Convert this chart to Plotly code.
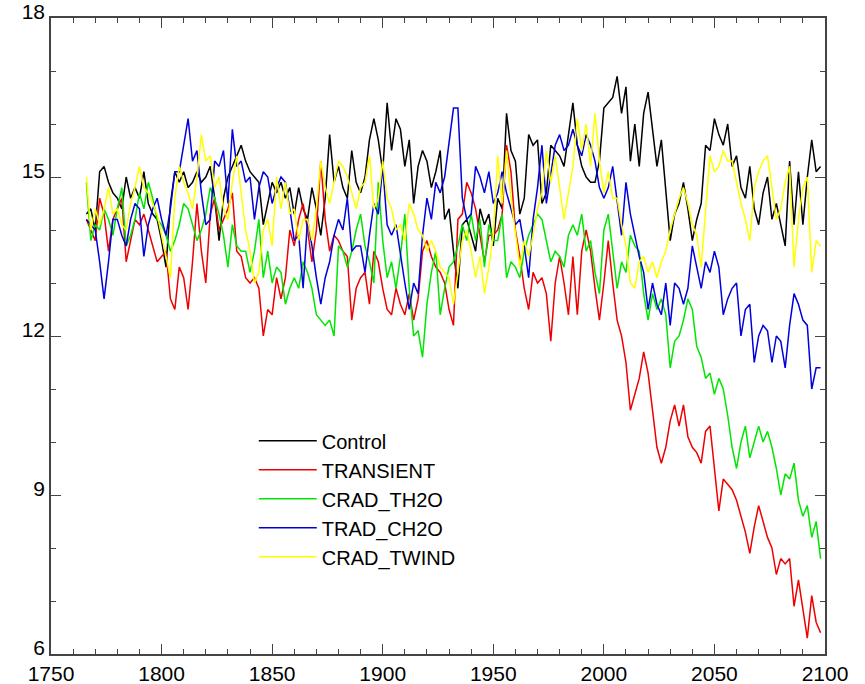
import plotly.graph_objects as go

years = list(range(1766, 2099, 2))

control = [
    14.3, 14.4,
    14.0, 15.1, 15.2, 14.9, 14.7,
    14.6, 14.4, 15.0, 14.6, 14.8,
    14.6, 15.1, 14.5, 14.3, 14.2,
    13.8, 13.3, 14.5, 15.1, 14.9,
    15.1, 14.8, 14.9, 15.1, 14.9,
    15.0, 15.2, 14.6, 13.8, 14.6,
    15.0, 15.2, 15.4, 15.6, 15.3,
    15.1, 15.0, 14.9, 14.1, 14.5,
    14.9, 14.7, 14.9, 14.6, 14.8,
    14.3, 14.8, 14.4, 14.2, 14.8,
    14.4, 13.9, 14.6, 15.8, 14.9,
    15.2, 14.8, 14.6, 15.5, 14.9,
    14.7, 15.0, 15.7, 16.1, 15.7,
    15.1, 16.4, 15.5, 16.1, 15.9,
    15.2, 15.7, 14.5, 15.2, 15.5,
    15.3, 14.8, 15.1, 15.5, 14.2,
    14.4, 13.6, 12.9, 14.1, 14.2,
    13.9, 13.6, 14.4, 14.1, 14.3,
    13.7, 14.6, 14.4, 16.2, 15.5,
    15.3, 14.3, 14.6, 15.8, 15.6,
    15.7, 14.5, 14.7, 15.6, 15.5,
    15.4, 15.2, 15.8, 16.4, 15.6,
    15.2, 15.0, 14.9, 14.9, 15.3,
    16.3, 16.4, 16.5, 16.9, 16.2,
    16.7, 15.3, 16.0, 15.2, 16.2,
    16.6, 15.9, 15.2, 15.7, 14.8,
    13.8, 14.3, 14.5, 14.9, 14.4,
    13.8, 14.2, 14.5, 15.6, 15.5,
    16.1, 15.8, 15.6, 16.0, 15.2,
    15.4, 14.8, 14.6, 15.2, 14.4,
    14.1, 14.7, 15.0, 14.2, 14.5,
    14.1, 13.7, 15.3, 14.1, 15.1,
    14.1, 15.0, 15.7, 15.1, 15.2,
]

transient = [
    14.2, 14.0,
    13.8, 14.6, 14.3, 13.6, 14.2,
    14.4, 14.6, 13.4, 13.8, 14.2,
    14.1, 14.3, 14.0, 13.7, 13.4,
    13.5, 13.6, 12.7, 12.5, 13.3,
    13.1, 12.5, 13.4, 14.5, 13.6,
    13.0, 14.3, 14.6, 14.0, 14.2,
    14.4, 14.7, 13.6, 13.5, 13.1,
    13.0, 13.1, 12.9, 12.0, 12.5,
    12.4, 13.1, 12.7, 13.1, 14.0,
    13.7, 14.2, 14.5, 14.0, 13.4,
    14.0, 15.3, 14.2, 13.6, 13.9,
    13.8, 13.6, 13.5, 12.3, 12.9,
    13.1, 13.2, 12.6, 13.6, 13.4,
    12.9, 12.5, 12.4, 12.9, 12.6,
    12.4, 12.8, 12.3, 12.7, 13.6,
    13.8, 13.5, 13.3, 13.2, 13.0,
    12.5, 12.2, 14.2, 14.3, 14.9,
    14.7, 14.4, 13.9, 13.4, 13.9,
    13.9, 14.0, 14.3, 15.6, 15.1,
    14.0, 13.5, 12.9, 12.5, 13.2,
    13.0, 13.1, 12.8, 11.9, 13.0,
    13.5, 13.0, 12.4, 13.5, 12.4,
    13.6, 14.0, 13.6, 12.9, 12.3,
    13.0, 13.8, 13.0, 12.3, 12.0,
    11.5, 10.6, 10.9, 11.2, 11.7,
    11.3, 10.6, 9.9, 9.6, 9.9,
    10.4, 10.7, 10.3, 10.7, 10.1,
    9.9, 9.8, 9.6, 10.2, 10.3,
    9.5, 8.7, 9.3, 9.2, 9.1,
    8.9, 8.6, 8.3, 7.9, 8.4,
    8.8, 8.5, 8.2, 8.0, 7.5,
    7.8, 7.7, 7.8, 6.9, 7.4,
    6.8, 6.3, 7.1, 6.6, 6.4,
]

crad_th2o = [
    14.9, 13.8,
    14.1, 14.0, 14.4, 14.2, 13.9,
    14.4, 14.8, 13.7, 13.9, 14.2,
    14.7, 14.4, 14.9, 14.6, 14.2,
    14.1, 13.9, 13.6, 13.8, 14.1,
    14.5, 14.4, 14.1, 13.8, 14.0,
    14.3, 14.8, 14.6, 14.3, 13.9,
    13.3, 14.1, 13.7, 13.6, 13.6,
    13.2, 13.6, 14.2, 13.1, 13.6,
    13.0, 13.3, 13.2, 12.6, 12.9,
    13.1, 12.9, 13.4, 13.2, 12.9,
    12.4, 12.3, 12.2, 12.3, 12.0,
    13.7, 13.6, 13.3, 13.6, 14.0,
    14.3, 13.7, 13.4, 13.0, 14.9,
    13.8, 13.1, 13.4, 12.9, 13.5,
    14.3, 12.9, 12.0, 12.1, 11.6,
    12.6, 13.2, 13.6, 12.4, 12.9,
    13.3, 13.4, 13.7, 14.1, 13.8,
    14.3, 13.8, 14.2, 13.3, 14.1,
    13.8, 13.8, 14.3, 13.1, 13.4,
    13.3, 13.1, 13.6, 13.9, 14.1,
    14.3, 14.2, 13.8, 13.4, 13.6,
    13.5, 13.3, 13.9, 14.1, 13.9,
    14.3, 13.6, 13.8, 13.2, 12.8,
    14.0, 14.3, 13.6, 12.9, 13.4,
    13.2, 13.9, 13.7, 13.6, 12.8,
    12.3, 12.8, 12.5, 12.7, 12.4,
    11.4, 11.9, 12.0, 12.3, 12.7,
    12.5, 11.8, 11.6, 11.2, 11.3,
    10.9, 11.2, 11.0, 10.5, 9.9,
    9.5, 10.0, 10.3, 9.7, 10.0,
    10.3, 10.0, 10.2, 9.9, 9.5,
    9.0, 9.4, 9.3, 9.6, 8.9,
    8.6, 8.8, 8.2, 8.5, 7.8,
]

trad_ch2o = [
    14.2, 14.1,
    14.0, 13.4, 12.7, 13.4, 14.2,
    14.2, 13.9, 13.7, 14.2, 14.5,
    14.4, 13.5, 14.1, 14.4, 14.6,
    14.2, 13.9, 14.4, 15.1, 15.1,
    15.6, 16.1, 15.3, 15.5, 14.7,
    14.1, 14.2, 15.3, 15.2, 15.5,
    14.5, 15.9, 15.2, 15.3, 14.9,
    15.0, 14.2, 14.8, 15.1, 15.0,
    14.5, 14.8, 15.0, 14.9, 14.4,
    13.8, 13.9, 12.9, 14.2, 13.7,
    13.1, 12.6, 13.1, 13.4, 13.9,
    14.2, 14.0, 14.6, 13.6, 13.7,
    13.7, 13.2, 13.9, 14.5, 14.3,
    15.2, 14.1, 13.9, 14.1, 13.5,
    13.0, 12.5, 13.0, 12.8, 13.9,
    14.6, 14.2, 14.9, 14.7, 15.0,
    15.6, 16.3, 16.3, 14.6, 14.2,
    14.3, 15.2, 15.0, 14.7, 15.1,
    14.5, 14.7, 15.1, 14.7, 14.4,
    14.1, 14.2, 13.7, 13.1, 14.2,
    14.8, 15.6, 14.5, 15.1, 15.6,
    15.8, 15.5, 15.6, 15.9, 15.6,
    15.4, 15.8, 15.6, 15.3, 14.8,
    14.6, 14.8, 15.2, 14.6, 13.9,
    14.9, 14.3, 13.9, 13.5, 13.2,
    12.5, 13.0, 12.6, 12.4, 13.0,
    12.2, 13.0, 12.9, 12.6, 12.9,
    13.7, 13.3, 12.9, 13.4, 13.2,
    13.6, 13.3, 12.4, 12.7, 12.9,
    13.0, 12.0, 12.5, 12.6, 11.5,
    12.0, 12.2, 12.1, 11.5, 12.0,
    11.9, 11.4, 12.2, 12.8, 12.6,
    12.3, 12.2, 11.0, 11.4, 11.4,
]

crad_twind = [
    15.0, 14.0,
    14.4, 14.1, 14.4, 14.8, 14.3,
    14.4, 14.1, 14.0, 14.5, 14.8,
    15.2, 14.8, 14.7, 14.5, 14.3,
    13.9, 13.5, 13.1, 14.6, 15.2,
    14.9, 14.7, 14.4, 15.0, 15.8,
    15.3, 15.4, 14.8, 15.0, 14.4,
    14.2, 14.9, 15.4, 14.7, 14.0,
    13.6, 13.0, 13.2, 14.0, 14.2,
    13.7, 15.0, 14.4, 14.9, 14.3,
    14.4, 13.8, 14.2, 14.2, 13.8,
    14.4, 15.3, 14.8, 14.5, 14.9,
    15.3, 15.2, 15.0, 14.7, 14.4,
    14.8, 14.9, 15.4, 14.4, 14.6,
    15.3, 14.6, 14.4, 14.0, 14.1,
    13.8, 14.5, 14.3, 14.0, 13.9,
    13.6, 13.8, 13.6, 13.3, 13.2,
    13.1, 12.6, 13.2, 13.8, 14.0,
    13.6, 13.1, 13.5, 12.8, 13.3,
    13.9, 15.4, 14.5, 15.5, 14.6,
    13.9, 13.3, 13.8, 13.5, 13.9,
    14.4, 14.7, 15.5, 14.9, 15.4,
    14.8, 14.2, 14.7, 15.2, 16.1,
    15.5, 16.0, 15.2, 16.2, 15.3,
    14.7, 15.1, 14.6, 14.6, 14.1,
    13.7, 13.0, 12.9, 13.4, 13.5,
    13.2, 13.4, 13.1, 13.4, 13.6,
    14.0, 14.3, 14.6, 14.8, 14.5,
    14.1, 13.9, 13.3, 14.4, 15.4,
    15.1, 15.2, 15.5, 15.3, 15.3,
    14.9, 14.5, 14.2, 13.8, 14.8,
    15.1, 15.3, 15.4, 14.8, 14.2,
    14.4, 14.9, 15.2, 13.3, 14.2,
    14.8, 15.0, 13.2, 13.8, 13.7,
]

series_names = ["Control", "TRANSIENT", "CRAD_TH2O", "TRAD_CH2O", "CRAD_TWIND"]
series_values = [control, transient, crad_th2o, trad_ch2o, crad_twind]
series_colors = ["#000000", "#ee0000", "#00e600", "#0000dd", "#ffff00"]

x_ticks = [1750, 1800, 1850, 1900, 1950, 2000, 2050, 2100]
y_ticks = [6, 9, 12, 15, 18]

fig = go.Figure()
for name, vals, col in zip(series_names, series_values, series_colors):
    n = min(len(years), len(vals))
    fig.add_trace(go.Scatter(
        x=years[:n], y=vals[:n], mode="lines", name=name,
        line=dict(color=col, width=1.5),
    ))

axis_col = "#444444"
font_family = "Liberation Sans, Arial, Helvetica, sans-serif"

fig.update_layout(
    width=865, height=684,
    margin=dict(l=51, r=40, t=18, b=30, autoexpand=False),
    paper_bgcolor="white", plot_bgcolor="white",
    font=dict(family=font_family, color="black"),
    showlegend=True,
    legend=dict(
        x=0.262, y=0.366, xanchor="left", yanchor="top",
        bgcolor="rgba(0,0,0,0)", borderwidth=0,
        font=dict(size=20, family=font_family, color="black"),
        tracegroupgap=0, itemwidth=58,
    ),
    xaxis=dict(
        range=[1750, 2100], tickvals=x_ticks, ticktext=[str(v) for v in x_ticks],
        ticks="inside", ticklen=10, tickwidth=1.2, tickcolor=axis_col,
        showline=True, linecolor=axis_col, linewidth=1.5, mirror="ticks",
        showgrid=False, zeroline=False, automargin=False,
        tickfont=dict(size=21, family=font_family, color="black"),
        minor=dict(dtick=10, tick0=1750, ticks="inside", ticklen=5,
                   tickcolor=axis_col, tickwidth=1, showgrid=False),
    ),
    yaxis=dict(
        range=[6, 18], tickvals=y_ticks, ticktext=[str(v) for v in y_ticks],
        ticks="inside", ticklen=10, tickwidth=1.2, tickcolor=axis_col,
        showline=True, linecolor=axis_col, linewidth=1.5, mirror="ticks",
        showgrid=False, zeroline=False, automargin=False,
        ticklabelshift=-6,
        tickfont=dict(size=21, family=font_family, color="black"),
        minor=dict(dtick=1, tick0=6, ticks="inside", ticklen=5,
                   tickcolor=axis_col, tickwidth=1, showgrid=False),
    ),
)

fig.write_html("out.html")
